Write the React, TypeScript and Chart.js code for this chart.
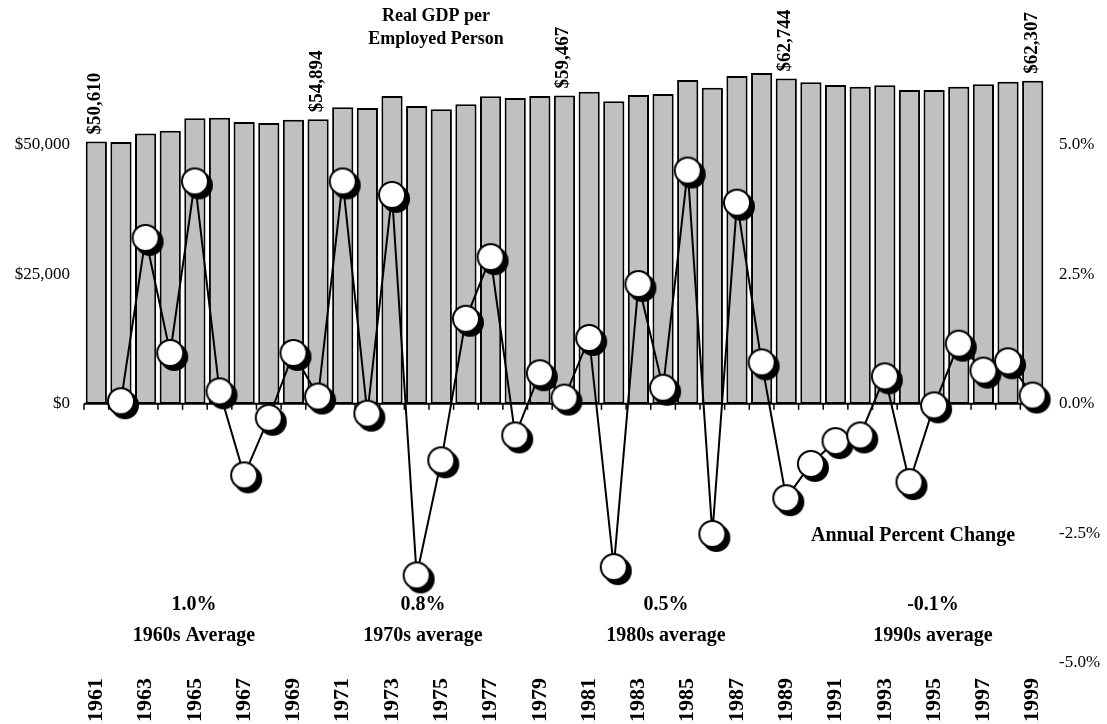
import React, { useEffect, useRef } from 'react';
import { Chart, registerables } from 'chart.js';

Chart.register(...registerables);

const SERIF = "'Liberation Serif', 'Times New Roman', serif";

const years = [
  '1961', '1962', '1963', '1964', '1965', '1966', '1967', '1968', '1969', '1970',
  '1971', '1972', '1973', '1974', '1975', '1976', '1977', '1978', '1979', '1980',
  '1981', '1982', '1983', '1984', '1985', '1986', '1987', '1988', '1989', '1990',
  '1991', '1992', '1993', '1994', '1995', '1996', '1997', '1998', '1999',
];

const gdpPerEmployed = [
  50610, 50500, 52160, 52670, 55060, 55180, 54350, 54150, 54790, 54894,
  57190, 57050, 59370, 57440, 56800, 57770, 59310, 58990, 59370, 59467,
  60200, 58350, 59560, 59760, 62460, 60980, 63230, 63820, 62744, 62020,
  61500, 61170, 61430, 60530, 60530, 61170, 61630, 62130, 62307,
];

const annualPctChange = [
  null, 0.05, 3.2, 0.98, 4.29, 0.24, -1.38, -0.27, 0.98, 0.14,
  4.29, -0.19, 4.03, -3.31, -1.09, 1.64, 2.83, -0.61, 0.59, 0.12,
  1.27, -3.15, 2.31, 0.31, 4.5, -2.51, 3.88, 0.8, -1.82, -1.16,
  -0.72, -0.61, 0.53, -1.51, -0.03, 1.16, 0.64, 0.82, 0.16,
];

const labeledYears = ['1961', '1970', '1980', '1989', '1999'];

const titleLines = ['Real GDP per', 'Employed Person'];
const lineCaption = 'Annual Percent Change';
const decadeAverages = ['1.0%', '0.8%', '0.5%', '-0.1%'];
const decadeNames = ['1960s Average', '1970s average', '1980s average', '1990s average'];

const leftTicks = [0, 25000, 50000];
const rightTicks = [-5, -2.5, 0, 2.5, 5];

function fmtDollar(v: number) {
  return '$' + Math.round(v).toLocaleString('en-US');
}

function makeMarker(): HTMLCanvasElement {
  const c = document.createElement('canvas');
  c.width = 38;
  c.height = 38;
  const ctx = c.getContext('2d')!;
  const m = 19;
  ctx.fillStyle = '#000';
  ctx.beginPath();
  ctx.arc(m + 4, m + 4, 14, 0, Math.PI * 2);
  ctx.fill();
  ctx.fillStyle = '#fff';
  ctx.strokeStyle = '#000';
  ctx.lineWidth = 2;
  ctx.beginPath();
  ctx.arc(m, m, 13, 0, Math.PI * 2);
  ctx.fill();
  ctx.stroke();
  return c;
}

const zeroAxisPlugin = {
  id: 'zeroAxis',
  afterDatasetDraw(chart: any, args: any) {
    if (args.index !== 0) return;
    const { ctx, chartArea, scales } = chart;
    const y0 = scales.y1.getPixelForValue(0);
    const xs = scales.x;
    const n = chart.data.labels.length;
    const step = (chartArea.right - chartArea.left) / n;
    ctx.save();
    ctx.strokeStyle = '#000';
    ctx.lineWidth = 2;
    ctx.beginPath();
    ctx.moveTo(chartArea.left, y0);
    ctx.lineTo(chartArea.right, y0);
    ctx.stroke();
    ctx.lineWidth = 1.5;
    for (let i = 0; i <= n; i++) {
      const x = xs.getPixelForValue(0) - step / 2 + i * step;
      ctx.beginPath();
      ctx.moveTo(x, y0);
      ctx.lineTo(x, y0 + 6);
      ctx.stroke();
    }
    ctx.restore();
  },
};

const annotationsPlugin = {
  id: 'annotations',
  afterDatasetsDraw(chart: any) {
    const { ctx } = chart;
    const meta = chart.getDatasetMeta(0);
    ctx.save();
    ctx.fillStyle = '#000';
    // bar value labels
    ctx.font = `bold 19px ${SERIF}`;
    ctx.textAlign = 'left';
    ctx.textBaseline = 'middle';
    labeledYears.forEach((yr) => {
      const i = years.indexOf(yr);
      const bar = meta.data[i];
      ctx.save();
      ctx.translate(bar.x - 1, bar.y - 7);
      ctx.rotate(-Math.PI / 2);
      ctx.fillText(fmtDollar(gdpPerEmployed[i]), 0, 0);
      ctx.restore();
    });
    // title
    ctx.textAlign = 'center';
    ctx.font = `bold 18px ${SERIF}`;
    ctx.fillText(titleLines[0], 436, 16);
    ctx.fillText(titleLines[1], 436, 39);
    // caption
    ctx.font = `bold 20px ${SERIF}`;
    ctx.fillText(lineCaption, 913, 536);
    // decade averages
    const cx = [194, 423, 666, 933];
    decadeAverages.forEach((t, k) => {
      ctx.fillText(t, cx[k], 605);
      ctx.fillText(decadeNames[k], cx[k], 636);
    });
    ctx.restore();
  },
};

export default function App() {
  const ref = useRef<HTMLCanvasElement>(null);
  useEffect(() => {
    const marker = makeMarker();
    const chart = new Chart(ref.current!, {
      type: 'bar',
      data: {
        labels: years,
        datasets: [
          {
            type: 'bar',
            data: gdpPerEmployed,
            yAxisID: 'y',
            backgroundColor: '#c0c0c0',
            borderColor: '#000',
            borderWidth: 2,
            borderSkipped: false,
            categoryPercentage: 1,
            barPercentage: 0.86,
            order: 3,
          },
          {
            type: 'line',
            data: annualPctChange,
            yAxisID: 'y1',
            borderColor: '#000',
            borderWidth: 2,
            pointRadius: 0,
            fill: false,
            tension: 0,
            order: 2,
          },
          {
            type: 'line',
            data: annualPctChange,
            yAxisID: 'y1',
            showLine: false,
            pointStyle: marker,
            pointRadius: 14,
            order: 1,
            clip: false,
          },
        ],
      } as any,
      options: {
        animation: false,
        responsive: true,
        maintainAspectRatio: false,
        events: [],
        layout: { padding: { top: 15, left: 0, right: 0, bottom: 0 } },
        plugins: { legend: { display: false }, tooltip: { enabled: false }, title: { display: false } },
        scales: {
          x: {
            type: 'category',
            offset: true,
            grid: { display: false, drawTicks: false },
            border: { display: false },
            afterFit: (s: any) => {
              s.height = 61;
              s.paddingLeft = 0;
              s.paddingRight = 0;
            },
            ticks: {
              autoSkip: false,
              maxRotation: 90,
              minRotation: 90,
              padding: 15,
              color: '#000',
              font: { family: SERIF, size: 22, weight: 'bold' },
              callback: (_v: any, i: number) => (i % 2 === 0 ? years[i] : ''),
            },
          },
          y: {
            position: 'left',
            min: -50000,
            max: 75000,
            grid: { display: false, drawTicks: false },
            border: { display: false },
            afterFit: (s: any) => {
              s.width = 84;
              s.paddingTop = 0;
              s.paddingBottom = 0;
            },
            afterBuildTicks: (s: any) => {
              s.ticks = [-50000, -25000, ...leftTicks, 75000].map((v) => ({ value: v }));
            },
            ticks: {
              padding: 14,
              color: '#000',
              font: { family: SERIF, size: 17 },
              callback: (v: any) => (leftTicks.includes(Number(v)) ? fmtDollar(Number(v)) : ''),
            },
          },
          y1: {
            position: 'right',
            min: -5,
            max: 7.5,
            grid: { display: false, drawTicks: false },
            border: { display: false },
            afterFit: (s: any) => {
              s.width = 62;
              s.paddingTop = 0;
              s.paddingBottom = 0;
            },
            afterBuildTicks: (s: any) => {
              s.ticks = [...rightTicks, 7.5].map((v) => ({ value: v }));
            },
            ticks: {
              padding: 14,
              color: '#000',
              font: { family: SERIF, size: 17 },
              callback: (v: any) => (rightTicks.includes(Number(v)) ? Number(v).toFixed(1) + '%' : ''),
            },
          },
        },
      } as any,
      plugins: [zeroAxisPlugin, annotationsPlugin],
    });
    return () => chart.destroy();
  }, []);
  return (
    <div style={{ position: 'fixed', left: 0, top: 0, width: 1107, height: 724, background: '#fff' }}>
      <canvas ref={ref} />
    </div>
  );
}
